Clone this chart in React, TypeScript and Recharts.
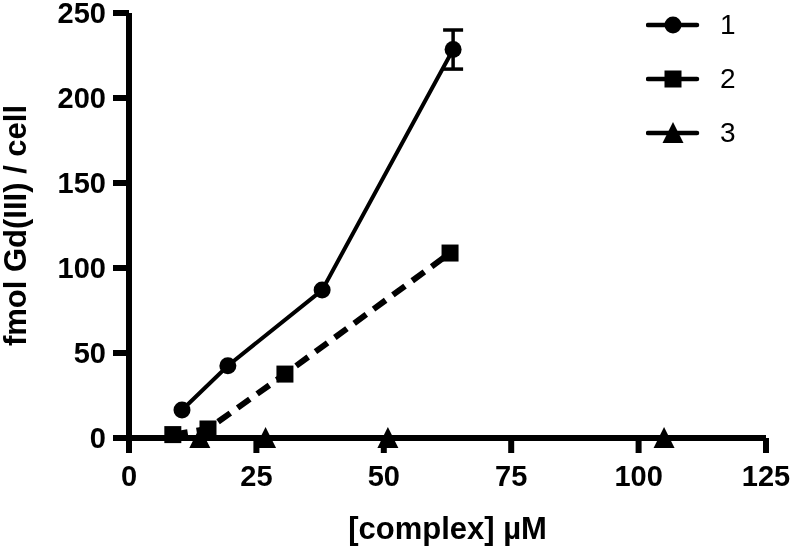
import React from 'react'
import { ScatterChart, Scatter, XAxis, YAxis, ErrorBar, Legend } from 'recharts'

const FONT = '"Liberation Sans", Arial, Helvetica, sans-serif'

const xTicks = [0, 25, 50, 75, 100, 125]
const yTicks = [0, 50, 100, 150, 200, 250]

// complex 1
const conc1 = [10.4, 19.4, 37.9, 63.6]
const gd1 = [16.5, 42.5, 87, 228.5]
const err1 = [0, 0, 0, 11.5]

// complex 2
const conc2 = [8.6, 15.5, 30.6, 63.0]
const gd2 = [2, 5.3, 37.6, 108.8]

// complex 3
const conc3 = [13.9, 26.8, 50.8, 105]
const gd3 = [0, 0, 0, 0]

const toPoints = (xs: number[], ys: number[], es?: number[]) =>
  xs.map((x, i) => ({ x, y: ys[i], err: es ? es[i] : 0 }))

const data1 = toPoints(conc1, gd1, err1)
const data2 = toPoints(conc2, gd2)
const data3 = toPoints(conc3, gd3)
const errData = data1.filter(d => d.err > 0)

const SERIES = [
  { name: '1', shape: 'circle', data: data1, line: { stroke: '#000', strokeWidth: 4 } },
  { name: '2', shape: 'square', data: data2, line: { stroke: '#000', strokeWidth: 6, strokeDasharray: '15 9' } },
  { name: '3', shape: 'triangle', data: data3, line: { stroke: '#000', strokeWidth: 4 } },
]

function Marker({ kind, cx, cy }: { kind: string; cx: number; cy: number }) {
  if (kind === 'circle') return <circle cx={cx} cy={cy} r={8.5} fill="#000" />
  if (kind === 'square') return <rect x={cx - 8.5} y={cy - 8.5} width={17} height={17} fill="#000" />
  return (
    <polygon
      points={`${cx},${cy - 11} ${cx - 10.5},${cy + 10} ${cx + 10.5},${cy + 10}`}
      fill="#000"
    />
  )
}

const renderLegend = () => (
  <div style={{ fontFamily: FONT, fontSize: 28, color: '#000' }}>
    {SERIES.map(s => (
      <div key={s.name} style={{ display: 'flex', alignItems: 'center', height: 54 }}>
        <svg width={56} height={54}>
          <line x1={2} y1={27} x2={51} y2={27} stroke="#000" strokeWidth={4.5} strokeLinecap="round" />
          <Marker kind={s.shape} cx={27} cy={27} />
        </svg>
        <span style={{ marginLeft: 18, lineHeight: '54px' }}>{s.name}</span>
      </div>
    ))}
  </div>
)

const tickStyle = { fill: '#000', fontSize: 29, fontWeight: 'bold', fontFamily: FONT }
const axisStroke = { stroke: '#000', strokeWidth: 6 }

export default function App() {
  return (
    <div style={{ position: 'fixed', top: 0, left: 0 }}>
      <ScatterChart width={792} height={547} margin={{ top: 13, right: 26, bottom: 0, left: 0 }}>
        <XAxis
          type="number"
          dataKey="x"
          domain={[0, 125]}
          ticks={xTicks}
          interval={0}
          axisLine={axisStroke}
          tickLine={axisStroke}
          tickSize={15}
          tickMargin={12}
          tick={tickStyle}
          height={109}
          label={{
            value: '[complex] µM', position: 'insideBottom', offset: 8,
            fill: '#000', fontSize: 31, fontWeight: 'bold', fontFamily: FONT,
          }}
        />
        <YAxis
          type="number"
          dataKey="y"
          domain={[0, 250]}
          ticks={yTicks}
          interval={0}
          axisLine={axisStroke}
          tickLine={axisStroke}
          tickSize={16}
          tickMargin={7}
          tick={tickStyle}
          width={129}
          label={{
            value: 'fmol Gd(III) / cell', angle: -90, position: 'insideLeft', offset: 15,
            fill: '#000', fontSize: 31, fontWeight: 'bold', fontFamily: FONT,
            style: { textAnchor: 'middle' },
          }}
        />
        <Legend
          layout="horizontal"
          verticalAlign="middle"
          align="center"
          content={renderLegend}
          wrapperStyle={{ top: -2, left: 646, width: 'auto', height: 'auto' }}
        />
        {SERIES.map(s => (
          <Scatter
            key={s.name}
            name={s.name}
            data={s.data}
            line={s.line}
            lineType="joint"
            isAnimationActive={false}
            shape={(p: any) => <Marker kind={s.shape} cx={p.cx} cy={p.cy} />}
          />
        ))}
        <Scatter
          name="sem"
          data={errData}
          legendType="none"
          isAnimationActive={false}
          shape={() => <g />}
        >
          <ErrorBar dataKey="err" direction="y" width={10} strokeWidth={3.5} stroke="#000" isAnimationActive={false} />
        </Scatter>
      </ScatterChart>
    </div>
  )
}
